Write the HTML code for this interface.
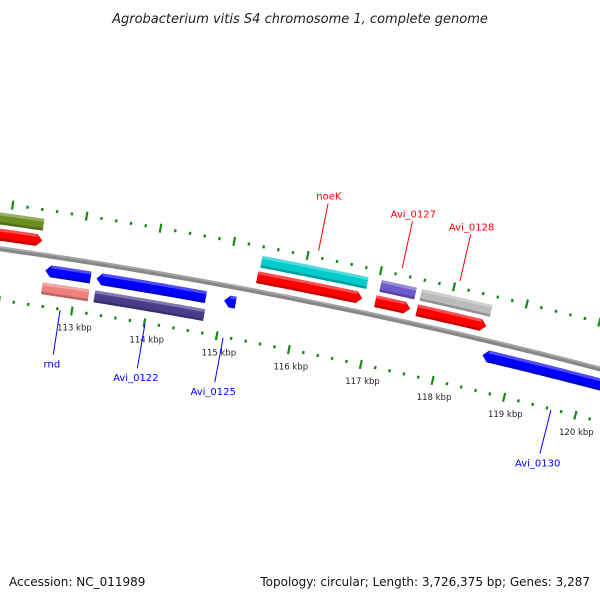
<!DOCTYPE html>
<html><head><meta charset="utf-8"><style>
body{margin:0;background:#fff}
svg{display:block;font-family:"DejaVu Sans","Liberation Sans",sans-serif}
</style></head><body>
<svg id="map" width="600" height="600" viewBox="0 0 600 600">
<text x="300" y="23" text-anchor="middle" font-size="13" font-style="italic" fill="#222">Agrobacterium vitis S4 chromosome 1, complete genome</text>
<text x="9" y="586" font-size="12" fill="#111">Accession: NC_011989</text>
<text x="590" y="586" text-anchor="end" font-size="12" fill="#111">Topology: circular; Length: 3,726,375 bp; Genes: 3,287</text>
<g id="g"></g>
</svg>
<script>
// feature data (kbp)
const featStart=[111.0,111.0,115.49,115.43,117.12,117.05,117.67,117.62,112.52,112.46,113.22,113.18,114.97,118.54];
const featEnd=[112.53,112.50,116.94,116.87,117.60,117.53,118.64,118.58,113.14,113.10,114.72,114.69,115.13,121.5];
const featRing=[2,1,2,1,2,1,2,1,-1,-2,-1,-2,-1,-1];
const featArrow=[0,1,0,1,0,1,0,1,-1,0,-1,0,-1,-1];
const featColor=["#6b8e23","#ff0000","#00cccc","#ff0000","#6a5acd","#ff0000","#bbbbbb","#ff0000","#0000ff","#f08080","#0000ff","#483d8b","#0000ff","#0000ff"];
const labelText=["noeK","Avi_0127","Avi_0128","rnd","Avi_0122","Avi_0125","Avi_0130"];
const labelKbp=[116.13,117.27,118.06,112.84,114.01,115.09,119.66];
const labelSide=[1,1,1,-1,-1,-1,-1];
const tickLabels=[113,114,115,116,117,118,119,120];

const C=[-739,5497],R0=5300,K0=116,A0=0.1971,RATE=0.014;
const NS="http://www.w3.org/2000/svg",G=document.getElementById('g');
function P(k,off){const a=A0+(k-K0)*RATE,r=R0+off;return [C[0]+r*Math.sin(a),C[1]-r*Math.cos(a)];}
function mk(t,attrs){const e=document.createElementNS(NS,t);for(const k in attrs)e.setAttribute(k,attrs[k]);G.appendChild(e);return e;}
function arcPts(k1,k2,off){const pts=[];const n=40;for(let i=0;i<=n;i++)pts.push(P(k1+(k2-k1)*i/n,off));return pts;}
function poly(pts){return pts.map(p=>p[0].toFixed(2)+","+p[1].toFixed(2)).join(" ");}

// backbone
const bb=mk('polyline',{points:poly(arcPts(110,122,0)),fill:'none',stroke:'#888',"stroke-width":5});


mk('polyline',{points:poly(arcPts(110,122,1.5)),fill:'none',stroke:'#aaa',"stroke-width":1.5});

// ticks
for(let t=0;t<=50;t++){
  const k=111.0+t*0.2;const major=Math.abs(k-Math.round(k))<0.01;
  [45,-51].forEach(ring=>{
    const len=major?4.5:1.5;const a=P(k,ring-len),b=P(k,ring+len);
    const ln=mk('line',{x1:a[0],y1:a[1],x2:b[0],y2:b[1],stroke:'#1a8a1a',"stroke-width":major?2.2:2.4});
    
    
  });
}
tickLabels.forEach(k=>{
  const p=P(k+0.07,-67);
  const tx=mk('text',{x:p[0],y:p[1]+3,"text-anchor":"middle","font-size":"8.5",fill:"#222"});
  tx.textContent=k+" kbp";
  
  
});

// features
const W=12,HEAD=0.075;
for(let i=0;i<featStart.length;i++){
  const off=featRing[i]>0?(featRing[i]==1?14:30):(featRing[i]==-1?-15:-33);
  const sh=off*0.00275;
  const k1=featStart[i]-sh,k2=featEnd[i]-sh,ar=featArrow[i];
  let b1=k1,b2=k2;if(ar==1)b2=k2-HEAD;if(ar==-1)b1=k1+HEAD;
  const top=arcPts(b1,b2,off+W/2),bot=arcPts(b1,b2,off-W/2).reverse();
  let pts=[];
  if(ar==-1)pts.push(P(k1,off));
  pts=pts.concat(top);
  if(ar==1)pts.push(P(k2,off));
  pts=pts.concat(bot);
  const f=mk('polygon',{points:poly(pts),fill:featColor[i]});
  
  
  const hl=arcPts(b1,b2,off+W/2).concat(arcPts(b1,b2,off+W/2-3).reverse());
  mk('polygon',{points:poly(hl),fill:'#fff',"fill-opacity":0.3});
  const dk=arcPts(b1,b2,off-W/2+2.5).concat(arcPts(b1,b2,off-W/2).reverse());
  mk('polygon',{points:poly(dk),fill:'#000',"fill-opacity":0.22});
}

// gene labels
for(let i=0;i<labelText.length;i++){
  const s=labelSide[i],k=labelKbp[i],col=s>0?'#ff0000':'#0000ff';
  const a=P(k,s*52),b=P(k,s*(s>0?100:97));
  const ln=mk('line',{x1:a[0],y1:a[1],x2:b[0],y2:b[1],stroke:col,"stroke-width":1});
  
  
  const t=P(k,s*(s>0?104:106));
  const tx=mk('text',{x:t[0],y:t[1]+(s>0?0:4),"text-anchor":"middle","font-size":"10",fill:col});
  tx.textContent=labelText[i];
  
  
}
</script>
</body></html>
